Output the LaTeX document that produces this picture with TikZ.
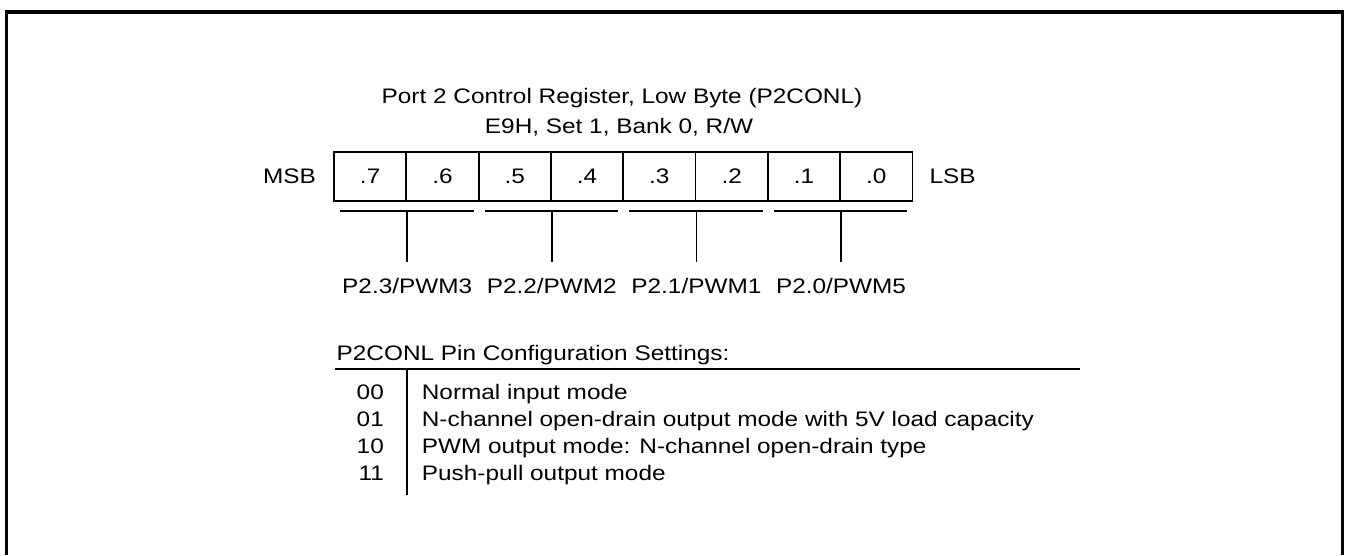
\documentclass[tikz,border=0pt]{standalone}
\usepackage{fontspec}
\setmainfont{Liberation Sans}[FakeStretch=1.16]
\usetikzlibrary{positioning}

\begin{document}
\begin{tikzpicture}[x=1pt, y=-1pt, font=\fontsize{21}{24}\selectfont,
  every node/.style={inner sep=0pt, anchor=base},
  bitbox/.style={draw, line width=1.8pt, minimum width=72.3pt, minimum height=49pt, anchor=center},
  rule/.style={line width=1.8pt}]
  \useasboundingbox (0,0) rectangle (1349,555);
  \draw[line width=3.2pt] (6.5,555) -- (6.5,12) -- (1342.5,12) -- (1342.5,555);
  \node (title) at (622,103) {Port 2 Control Register, Low Byte (P2CONL)};
  \node (addr) at (619,133) {E9H, Set 1, Bank 0, R/W};
  \foreach \i in {7,...,0} {
    \node[bitbox] (b\i) at ({334+(7-\i)*72.3+36.15},176.5) {.\i};
  }
  \node[left=17pt of b7, anchor=east] (msb) {MSB};
  \node[right=16pt of b0, anchor=west] (lsb) {LSB};
  \foreach \hi/\lo/\pin/\pwm in {7/6/3/3, 5/4/2/2, 3/2/1/1, 1/0/0/5} {
    \draw[rule] ([shift={(7,9)}]b\hi.south west) -- ([shift={(-6,9)}]b\lo.south east);
    \draw[rule] ([shift={(0,9)}]b\hi.south east) -- ([shift={(0,60)}]b\hi.south east);
    \node (p\pin) at ([shift={(0,92)}]b\hi.south east) {P2.\pin/PWM\pwm};
  }
  \node[anchor=base west] (hdr) at (336.5,360) {P2CONL Pin Configuration Settings:};
  \draw[rule] (335,369) -- (1080,369);
  \draw[rule] (407,369) -- (407,495);
  \foreach \code/\txt [count=\r] in {00/{Normal input mode},
      01/{N-channel open-drain output mode with 5V load capacity},
      10/{PWM output mode: N-channel open-drain type},
      11/{Push-pull output mode}} {
    \node[anchor=base east] (c\r) at (384,{399+(\r-1)*27.3}) {\code};
    \node[anchor=base west] (t\r) at (421.7,{399+(\r-1)*27.3}) {\txt};
  }
\end{tikzpicture}
\end{document}
